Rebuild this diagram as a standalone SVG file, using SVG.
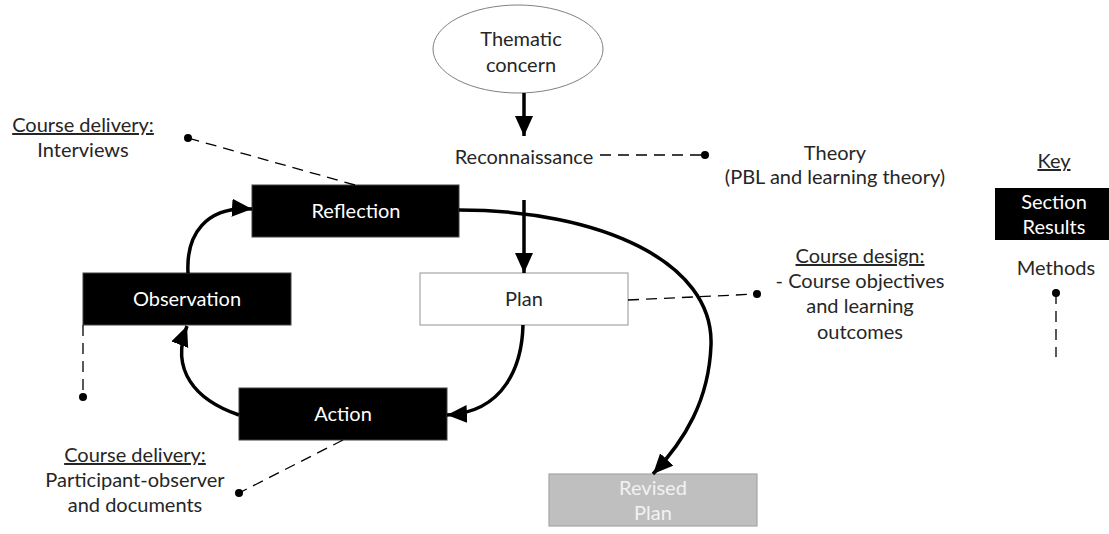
<svg xmlns="http://www.w3.org/2000/svg" width="1109" height="534" viewBox="0 0 1109 534">
<style>
text{font-family:Lato,"Open Sans","Liberation Sans",sans-serif;font-size:20px;fill:#262626;text-anchor:middle}
.w{fill:#fff}
.g{fill:#f2f2f2}
.u{text-decoration:underline}
.blk{fill:#000;stroke:#404040;stroke-width:1}
.flow{fill:none;stroke:#000;stroke-width:3.5}
.dash{fill:none;stroke:#000;stroke-width:1.3;stroke-dasharray:11 7}
</style>
<defs>
<marker id="ah" markerUnits="userSpaceOnUse" markerWidth="22" markerHeight="20" refX="20" refY="9" orient="auto">
<path d="M0,0 L20,9 L0,18 Z" fill="#000"/>
</marker>
</defs>
<g id="thematic">
<ellipse cx="518" cy="49" rx="85" ry="44" fill="#fff" stroke="#808080" stroke-width="1"/>
<text x="521" y="46">Thematic</text>
<text x="521" y="72">concern</text>
</g>
<g id="reconnaissance"><text x="524" y="164">Reconnaissance</text></g>
<g id="theory"><text x="835" y="160">Theory</text><text x="835" y="184">(PBL and learning theory)</text></g>
<g id="reflection"><rect class="blk" x="252" y="185" width="207" height="52"/><text class="w" x="356" y="218">Reflection</text></g>
<g id="observation"><rect class="blk" x="83" y="273" width="208" height="52"/><text class="w" x="187" y="306">Observation</text></g>
<g id="plan"><rect x="420" y="273" width="208" height="52" fill="#fff" stroke="#a6a6a6" stroke-width="1.2"/><text x="524" y="306">Plan</text></g>
<g id="action"><rect class="blk" x="239" y="388" width="208" height="52"/><text class="w" x="343" y="421">Action</text></g>
<g id="revised"><rect x="549" y="474" width="208" height="52" fill="#bfbfbf" stroke="#a6a6a6" stroke-width="1.2"/><text class="g" x="653" y="495">Revised</text><text class="g" x="653" y="520">Plan</text></g>
<g id="cd-interviews"><text class="u" x="83" y="132">Course delivery:</text><text x="83" y="157">Interviews</text></g>
<g id="cd-participant"><text class="u" x="135" y="462">Course delivery:</text><text x="135" y="487">Participant-observer</text><text x="135" y="512">and documents</text></g>
<g id="course-design"><text class="u" x="860" y="263">Course design:</text><text x="860" y="288">- Course objectives</text><text x="860" y="313">and learning</text><text x="860" y="339">outcomes</text></g>
<g id="key">
<text class="u" x="1054" y="168">Key</text>
<rect x="995" y="188" width="116" height="52" fill="#000"/>
<text class="w" x="1054" y="209">Section</text><text class="w" x="1054" y="234">Results</text>
<text x="1056" y="275">Methods</text>
<circle cx="1056" cy="293" r="4" fill="#000"/>
<line class="dash" x1="1056" y1="293" x2="1056" y2="357"/>
</g>
<g id="connectors">
<line class="flow" x1="524" y1="93" x2="524" y2="136" marker-end="url(#ah)"/>
<line class="flow" x1="524" y1="200" x2="524" y2="273" marker-end="url(#ah)"/>
<path class="flow" d="M459,210 C600,210 714,262 711,345 C709,400 685,440 653,474" marker-end="url(#ah)"/>
<path class="flow" d="M523,325 C522,365 505,412 447,415" marker-end="url(#ah)"/>
<path class="flow" d="M239,415 C195,400 170,370 187,326" marker-end="url(#ah)"/>
<path class="flow" d="M188,273 C186,235 205,206 252,209" marker-end="url(#ah)"/>
<line class="dash" x1="600" y1="155" x2="705" y2="155"/><circle cx="705" cy="155" r="4" fill="#000"/>
<line class="dash" x1="355" y1="185" x2="188" y2="138"/><circle cx="188" cy="138" r="4" fill="#000"/>
<line class="dash" x1="628" y1="300" x2="757" y2="294"/><circle cx="757" cy="294" r="4" fill="#000"/>
<line class="dash" x1="83" y1="325" x2="83" y2="397"/><circle cx="83" cy="397" r="4" fill="#000"/>
<line class="dash" x1="343" y1="440" x2="239" y2="493"/><circle cx="239" cy="493" r="4" fill="#000"/>
</g>
</svg>
